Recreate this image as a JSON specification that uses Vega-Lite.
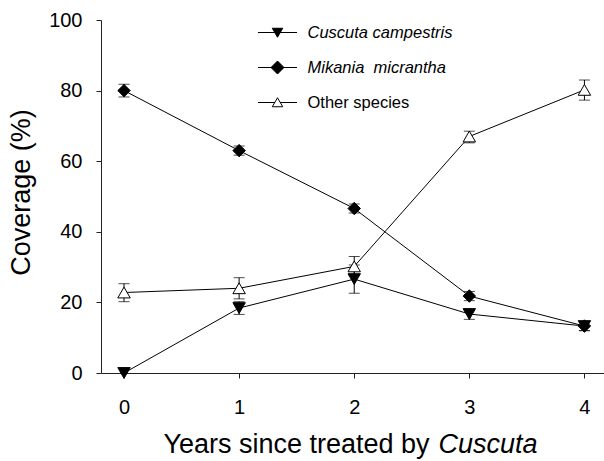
{
  "$schema": "https://vega.github.io/schema/vega-lite/v6.json",
  "width": 503,
  "height": 353,
  "autosize": {"type": "none"},
  "padding": {"left": 101, "top": 20, "right": 0, "bottom": 88},
  "background": "white",
  "config": {
    "font": "Liberation Sans",
    "view": {"stroke": null},
    "axis": {
      "grid": false,
      "domainColor": "#222222",
      "tickColor": "#222222",
      "labelColor": "black",
      "titleColor": "black",
      "labelFont": "Liberation Sans",
      "titleFont": "Liberation Sans",
      "titleFontWeight": "normal",
      "labelFontSize": 20,
      "titleFontSize": 27,
      "tickSize": 5,
      "domainWidth": 1,
      "tickWidth": 1
    }
  },
  "data": {
    "values": [
      {"year": 0, "species": "Cuscuta campestris", "mean": 0, "lo": null, "hi": null},
      {"year": 1, "species": "Cuscuta campestris", "mean": 18.4, "lo": 16.6, "hi": 20.2},
      {"year": 2, "species": "Cuscuta campestris", "mean": 26.6, "lo": 22.6, "hi": 30.6},
      {"year": 3, "species": "Cuscuta campestris", "mean": 16.7, "lo": 15.2, "hi": 18.2},
      {"year": 4, "species": "Cuscuta campestris", "mean": 13.3, "lo": 12.0, "hi": 14.6},
      {"year": 0, "species": "Mikania\u00a0 micrantha", "mean": 80.0, "lo": 78.2, "hi": 81.8},
      {"year": 1, "species": "Mikania\u00a0 micrantha", "mean": 63.0, "lo": 61.7, "hi": 64.3},
      {"year": 2, "species": "Mikania\u00a0 micrantha", "mean": 46.6, "lo": 45.3, "hi": 47.9},
      {"year": 3, "species": "Mikania\u00a0 micrantha", "mean": 21.8, "lo": 20.5, "hi": 23.1},
      {"year": 4, "species": "Mikania\u00a0 micrantha", "mean": 13.3, "lo": 12.0, "hi": 14.6},
      {"year": 0, "species": "Other species", "mean": 22.8, "lo": 20.2, "hi": 25.3},
      {"year": 1, "species": "Other species", "mean": 24.0, "lo": 21.0, "hi": 27.0},
      {"year": 2, "species": "Other species", "mean": 30.2, "lo": 27.6, "hi": 33.0},
      {"year": 3, "species": "Other species", "mean": 67.0, "lo": 65.2, "hi": 68.5},
      {"year": 4, "species": "Other species", "mean": 80.2, "lo": 77.3, "hi": 83.0}
    ]
  },
  "layer": [
    {
      "encoding": {
        "x": {
          "field": "year", "type": "quantitative",
          "scale": {"domain": [-0.2, 4.17], "nice": false, "zero": false},
          "axis": {
            "values": [0, 1, 2, 3, 4], "format": "d",
            "title": "Years since treated by",
            "labelPadding": 19,
            "titleX": 195, "titleY": 79, "titleAlign": "center", "titleBaseline": "alphabetic"
          }
        }
      },
      "layer": [
        {
          "mark": {"type": "line", "color": "black", "strokeWidth": 1},
          "encoding": {
            "y": {
              "field": "mean", "type": "quantitative",
              "scale": {"domain": [0, 100], "nice": false},
              "axis": {
                "values": [0, 20, 40, 60, 80, 100],
                "title": "Coverage (%)",
                "labelPadding": 14,
                "titleX": -72, "titleY": 172, "titleAlign": "center", "titleBaseline": "alphabetic"
              }
            },
            "detail": {"field": "species"}
          }
        },
        {
          "mark": {"type": "rule", "color": "black", "strokeWidth": 1},
          "encoding": {
            "y": {"field": "lo", "type": "quantitative"},
            "y2": {"field": "hi"}
          }
        },
        {
          "mark": {"type": "tick", "color": "black", "orient": "horizontal", "size": 11, "thickness": 1},
          "encoding": {
            "y": {"field": "lo", "type": "quantitative"}
          }
        },
        {
          "mark": {"type": "tick", "color": "black", "orient": "horizontal", "size": 11, "thickness": 1},
          "encoding": {
            "y": {"field": "hi", "type": "quantitative"}
          }
        },
        {
          "mark": {"type": "point", "filled": true, "size": 155, "stroke": "black", "strokeWidth": 1, "opacity": 1},
          "encoding": {
            "y": {"field": "mean", "type": "quantitative"},
            "shape": {
              "field": "species", "type": "nominal",
              "scale": {"domain": ["Cuscuta campestris", "Mikania\u00a0 micrantha", "Other species"], "range": ["triangle-down", "diamond", "triangle-up"]},
              "legend": null
            },
            "fill": {
              "field": "species", "type": "nominal",
              "scale": {"domain": ["Cuscuta campestris", "Mikania\u00a0 micrantha", "Other species"], "range": ["black", "black", "white"]},
              "legend": null
            }
          }
        }
      ]
    },
    {
      "mark": {"type": "point", "filled": true, "size": 10, "opacity": 0},
      "encoding": {
        "x": {
          "field": "year", "type": "quantitative",
          "scale": {"domain": [-0.2, 4.17], "nice": false, "zero": false},
          "axis": {
            "orient": "bottom", "domain": false, "ticks": false, "labels": false,
            "title": "Cuscuta", "titleFontStyle": "italic",
            "titleX": 386.5, "titleY": 79, "titleAlign": "center", "titleBaseline": "alphabetic"
          }
        },
        "y": {"field": "mean", "type": "quantitative"},
        "shape": {
          "field": "species", "type": "nominal",
          "scale": {
            "domain": ["Cuscuta campestris", "Mikania\u00a0 micrantha", "Other species"],
            "range": [
              "M-1.56,0H1.56M-0.42,-0.34L0.42,-0.34L0,0.38Z",
              "M-1.56,0H1.56M0,-0.52L0.52,0L0,0.52L-0.52,0Z",
              "M-1.56,0H-0.22M0.22,0H1.56M-0.42,0.34L0.42,0.34L0,-0.38Z"
            ]
          },
          "legend": {
            "orient": "none", "legendX": 163.5, "legendY": -0.5, "title": null,
            "symbolSize": 625, "labelFontSize": 16.5, "labelOffset": 17, "rowPadding": 13, "padding": 0,
            "symbolStrokeWidth": 1, "symbolStrokeColor": "black",
            "labelFont": "Liberation Sans", "labelColor": "black", "labelLimit": 300,
            "encode": {
              "labels": {"update": {"fontStyle": {"signal": "datum.value === 'Other species' ? 'normal' : 'italic'"}}},
              "symbols": {"update": {"stroke": {"value": "black"}, "strokeWidth": {"value": 1}, "opacity": {"value": 1}}}
            }
          }
        },
        "fill": {
          "field": "species", "type": "nominal",
          "scale": {"domain": ["Cuscuta campestris", "Mikania\u00a0 micrantha", "Other species"], "range": ["black", "black", "white"]},
          "legend": {
            "orient": "none", "legendX": 163.5, "legendY": -0.5, "title": null,
            "symbolSize": 625, "labelFontSize": 16.5, "labelOffset": 17, "rowPadding": 13, "padding": 0,
            "symbolStrokeWidth": 1, "symbolStrokeColor": "black",
            "labelFont": "Liberation Sans", "labelColor": "black", "labelLimit": 300,
            "encode": {
              "labels": {"update": {"fontStyle": {"signal": "datum.value === 'Other species' ? 'normal' : 'italic'"}}},
              "symbols": {"update": {"stroke": {"value": "black"}, "strokeWidth": {"value": 1}, "opacity": {"value": 1}}}
            }
          }
        }
      }
    }
  ],
  "resolve": {
    "scale": {"x": "independent", "shape": "independent", "fill": "independent"},
    "axis": {"x": "independent"}
  }
}
